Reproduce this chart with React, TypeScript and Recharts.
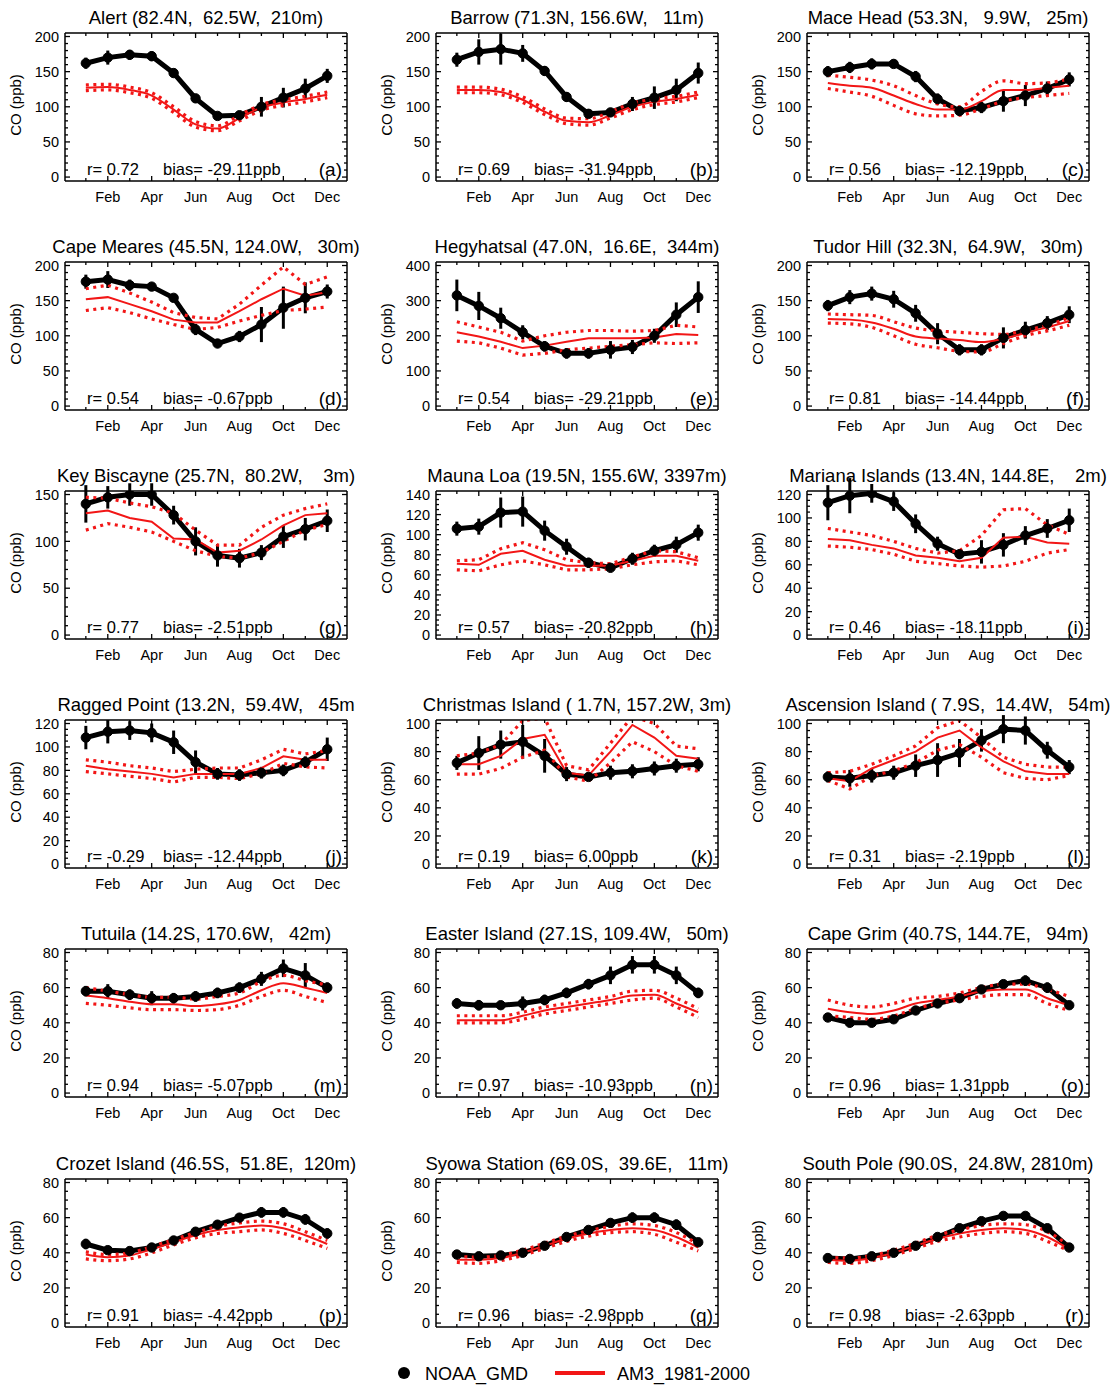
import React from 'react';
import { ComposedChart, Line, XAxis, YAxis, ErrorBar } from 'recharts';

const MONTHS = [1, 2, 3, 4, 5, 6, 7, 8, 9, 10, 11, 12];
const MONTH_LABELS = ['Jan', 'Feb', 'Mar', 'Apr', 'May', 'Jun', 'Jul', 'Aug', 'Sep', 'Oct', 'Nov', 'Dec'];

const TICKS_400 = [0, 100, 200, 300, 400];
const TICKS_200 = [0, 50, 100, 150, 200];
const TICKS_150 = [0, 50, 100, 150];
const TICKS_140 = [0, 20, 40, 60, 80, 100, 120, 140];
const TICKS_120 = [0, 20, 40, 60, 80, 100, 120];
const TICKS_100 = [0, 20, 40, 60, 80, 100];
const TICKS_80 = [0, 20, 40, 60, 80];

// (a) Alert
const alertObs = [162, 170, 174, 172, 148, 112, 87, 88, 100, 113, 126, 144];
const alertErr = [8, 10, 7, 7, 6, 6, 4, 5, 14, 14, 14, 10];
const alertMod = [127, 128, 124, 116, 96, 75, 69, 84, 99, 106, 111, 117];
const alertHi = [131, 132, 128, 120, 100, 79, 73, 88, 103, 110, 115, 121];
const alertLo = [123, 124, 120, 112, 92, 71, 66, 80, 95, 102, 107, 113];
// (b) Barrow
const barrowObs = [167, 178, 182, 176, 151, 114, 90, 92, 104, 113, 124, 148];
const barrowErr = [10, 18, 22, 12, 7, 7, 5, 6, 10, 16, 16, 15];
const barrowMod = [124, 124, 121, 110, 93, 80, 78, 88, 100, 107, 111, 117];
const barrowHi = [128, 128, 125, 114, 97, 84, 83, 93, 105, 111, 115, 121];
const barrowLo = [120, 120, 117, 106, 89, 76, 74, 84, 96, 103, 107, 113];
// (c) Mace Head
const maceObs = [150, 156, 161, 161, 143, 111, 94, 99, 108, 116, 126, 139];
const maceErr = [8, 8, 8, 6, 8, 8, 5, 8, 15, 15, 10, 10];
const maceMod = [134, 130, 127, 116, 104, 96, 96, 108, 124, 124, 127, 130];
const maceHi = [145, 142, 138, 130, 116, 104, 100, 122, 137, 133, 134, 140];
const maceLo = [126, 121, 115, 102, 90, 87, 88, 97, 108, 113, 116, 119];
// (d) Cape Meares
const mearesObs = [177, 180, 172, 170, 154, 109, 89, 99, 116, 140, 154, 163];
const mearesErr = [10, 12, 8, 5, 5, 8, 5, 8, 25, 30, 22, 10];
const mearesMod = [152, 155, 145, 135, 123, 119, 119, 135, 152, 167, 157, 162];
const mearesHi = [167, 172, 161, 148, 133, 126, 124, 145, 172, 198, 173, 184];
const mearesLo = [136, 140, 133, 124, 116, 109, 112, 121, 129, 136, 138, 141];
// (e) Hegyhatsal
const hegyObs = [315, 285, 250, 210, 170, 150, 150, 160, 168, 200, 260, 310];
const hegyErr = [45, 40, 30, 20, 15, 15, 15, 25, 20, 20, 35, 45];
const hegyMod = [210, 198, 183, 165, 172, 183, 193, 193, 193, 195, 205, 202];
const hegyHi = [240, 225, 210, 185, 200, 210, 215, 215, 213, 215, 230, 225];
const hegyLo = [185, 180, 165, 145, 150, 160, 165, 170, 175, 180, 178, 180];
// (f) Tudor Hill
const tudorObs = [143, 155, 160, 152, 132, 103, 80, 80, 97, 108, 118, 130];
const tudorErr = [8, 10, 10, 12, 12, 15, 8, 8, 15, 12, 10, 12];
const tudorMod = [124, 123, 119, 110, 99, 96, 94, 91, 96, 104, 112, 121];
const tudorHi = [131, 130, 129, 120, 111, 107, 105, 103, 102, 108, 115, 126];
const tudorLo = [118, 117, 112, 100, 88, 83, 78, 77, 89, 100, 107, 115];
// (g) Key Biscayne
const keyObs = [140, 147, 150, 150, 128, 100, 85, 82, 88, 105, 113, 122];
const keyErr = [20, 12, 12, 12, 10, 15, 12, 10, 8, 12, 12, 12];
const keyMod = [130, 133, 125, 121, 103, 102, 88, 90, 102, 117, 128, 130];
const keyHi = [147, 146, 141, 137, 130, 112, 96, 96, 115, 128, 135, 140];
const keyLo = [112, 119, 115, 110, 100, 90, 84, 82, 88, 100, 112, 118];
// (h) Mauna Loa
const maunaObs = [106, 108, 122, 123, 104, 88, 72, 67, 76, 84, 90, 102];
const maunaErr = [7, 8, 15, 15, 10, 8, 5, 3, 6, 6, 8, 8];
const maunaMod = [71, 70, 81, 84, 75, 69, 69, 69, 74, 79, 79, 74];
const maunaHi = [74, 75, 86, 92, 85, 75, 72, 71, 78, 84, 83, 77];
const maunaLo = [65, 64, 70, 74, 70, 65, 65, 66, 70, 73, 74, 70];
// (i) Mariana Islands
const marianaObs = [113, 119, 121, 114, 95, 78, 69, 71, 77, 85, 91, 98];
const marianaErr = [15, 15, 8, 8, 8, 6, 4, 10, 10, 8, 8, 10];
const marianaMod = [82, 81, 77, 74, 68, 66, 63, 66, 83, 84, 79, 78];
const marianaHi = [91, 88, 85, 80, 74, 70, 72, 85, 107, 108, 94, 86];
const marianaLo = [76, 75, 73, 69, 63, 61, 59, 58, 59, 63, 70, 73];
// (j) Ragged Point
const raggedObs = [108, 113, 114, 112, 104, 87, 77, 76, 78, 80, 87, 98];
const raggedErr = [10, 10, 8, 8, 10, 10, 5, 5, 5, 5, 5, 10];
const raggedMod = [84, 81, 79, 77, 74, 77, 77, 77, 82, 92, 89, 89];
const raggedHi = [89, 87, 84, 82, 79, 81, 82, 82, 89, 98, 94, 97];
const raggedLo = [79, 77, 75, 73, 70, 74, 74, 73, 77, 86, 83, 82];
// (k) Christmas Island
const xmasObs = [72, 79, 85, 87, 77, 64, 62, 65, 66, 68, 70, 71];
const xmasErr = [5, 12, 10, 12, 12, 5, 3, 5, 5, 5, 5, 5];
const xmasMod = [71, 71, 77, 89, 92, 65, 63, 80, 99, 90, 77, 75];
const xmasHi = [77, 79, 85, 102, 104, 70, 67, 86, 105, 100, 84, 82];
const xmasLo = [64, 64, 68, 76, 81, 62, 59, 72, 87, 80, 70, 66];
// (l) Ascension Island
const ascObs = [62, 61, 63, 65, 70, 74, 79, 88, 96, 95, 81, 69];
const ascErr = [4, 6, 5, 5, 8, 12, 10, 8, 10, 10, 6, 5];
const ascMod = [61, 59, 68, 74, 80, 90, 95, 83, 73, 66, 64, 64];
const ascHi = [65, 66, 71, 77, 84, 97, 102, 90, 76, 71, 69, 69];
const ascLo = [59.5, 53.5, 62.5, 66.5, 72, 81, 85, 76, 65, 61, 60, 63];
// (m) Tutuila
const tutuObs = [58, 58, 56, 54, 54, 55, 57, 60, 65, 71, 67, 60];
const tutuErr = [3, 4, 3, 4, 3, 3, 3, 3, 4, 5, 7, 3];
const tutuMod = [55.5, 54, 52, 50.5, 50.5, 49.5, 50.5, 53, 58.5, 62.5, 60, 57];
const tutuHi = [60, 58, 56, 54.5, 54.5, 53.5, 55, 57, 63.5, 67, 64, 61.5];
const tutuLo = [51, 50, 48.5, 47.5, 47.5, 47, 47.5, 50, 55, 58.5, 55, 51.5];
// (n) Easter Island
const easterObs = [51, 50, 50, 51, 53, 57, 62, 67, 73, 73, 67, 57];
const easterErr = [3, 3, 2, 4, 3, 3, 3, 5, 5, 5, 5, 3];
const easterMod = [41.5, 41.5, 41.5, 44, 47, 49, 51, 53, 55.5, 56, 51, 46];
const easterHi = [44, 44, 44, 46, 49, 51, 53, 55, 58, 58.5, 54, 48];
const easterLo = [40, 40, 40, 42, 45, 47, 49, 51, 53, 54, 49, 43];
// (o) Cape Grim
const grimObs = [43, 40, 40, 42, 47, 51, 54, 59, 62, 64, 60, 50];
const grimErr = [2, 2, 2, 2, 2, 2, 2, 2, 2, 3, 3, 2];
const grimMod = [48, 46, 45, 47, 51, 53, 55, 58, 59, 59, 54, 50];
const grimHi = [53, 50, 49, 51, 54, 55, 57, 60, 62, 62, 59, 55];
const grimLo = [44, 43, 42, 44, 48, 51, 53, 55, 56, 56, 51, 47];
// (p) Crozet Island
const crozetObs = [45, 41.5, 41, 43, 47, 52, 56, 60, 63, 63, 59, 51];
const crozetErr = [3, 2, 2, 2, 2, 2, 2, 2, 3, 3, 3, 3];
const crozetMod = [39, 37.5, 38.5, 42, 46, 50, 53, 54.5, 55.5, 54, 50, 45];
const crozetHi = [40.5, 39, 40, 43.5, 47.5, 51.5, 55, 57, 58, 56.5, 52, 47];
const crozetLo = [36.5, 35.5, 36.5, 40, 44.5, 48.5, 51, 52, 53, 51, 47, 42.5];
// (q) Syowa Station
const syowaObs = [39, 38, 38.5, 40, 44, 49, 53, 57, 60, 60, 56, 46];
const syowaErr = [2, 2, 2, 2, 2, 2, 2, 2, 3, 3, 3, 2];
const syowaMod = [36, 36, 37, 40, 44, 48, 51, 53, 54, 53, 49, 43];
const syowaHi = [38, 37.5, 38.5, 41.5, 45.5, 49.5, 52.5, 55, 56.5, 55.5, 51.5, 45];
const syowaLo = [34.5, 34, 35.5, 38.5, 42.5, 46.5, 49.5, 51.5, 52, 50.5, 46, 41];
// (r) South Pole
const spoObs = [37, 36.5, 38, 40, 44, 49, 54, 58, 61, 61, 54, 43];
const spoErr = [1, 1, 1, 1, 2, 2, 2, 2, 2, 2, 2, 2];
const spoMod = [36, 35.5, 37, 40, 44, 48, 51, 53, 54, 53, 49, 42];
const spoHi = [37.5, 37, 38.5, 41.5, 45.5, 50, 53, 55.5, 56.5, 56, 52, 44];
const spoLo = [34.5, 34, 35.5, 38.5, 42.5, 46.5, 49, 51, 52, 51, 46.5, 41];

type Station = {
  title: string; ticks: number[]; minor: number; r: string; bias: string; letter: string;
  obs: number[]; err: number[]; mod: number[]; hi: number[]; lo: number[]; curve: 'linear' | 'monotone';
};

const STATIONS: Station[] = [
  { title: 'Alert (82.4N,  62.5W,  210m)', ticks: TICKS_200, minor: 10, r: '0.72', bias: '-29.11', letter: 'a', obs: alertObs, err: alertErr, mod: alertMod, hi: alertHi, lo: alertLo, curve: 'monotone' },
  { title: 'Barrow (71.3N, 156.6W,   11m)', ticks: TICKS_200, minor: 10, r: '0.69', bias: '-31.94', letter: 'b', obs: barrowObs, err: barrowErr, mod: barrowMod, hi: barrowHi, lo: barrowLo, curve: 'monotone' },
  { title: 'Mace Head (53.3N,   9.9W,   25m)', ticks: TICKS_200, minor: 10, r: '0.56', bias: '-12.19', letter: 'c', obs: maceObs, err: maceErr, mod: maceMod, hi: maceHi, lo: maceLo, curve: 'monotone' },
  { title: 'Cape Meares (45.5N, 124.0W,   30m)', ticks: TICKS_200, minor: 10, r: '0.54', bias: '-0.67', letter: 'd', obs: mearesObs, err: mearesErr, mod: mearesMod, hi: mearesHi, lo: mearesLo, curve: 'linear' },
  { title: 'Hegyhatsal (47.0N,  16.6E,  344m)', ticks: TICKS_400, minor: 20, r: '0.54', bias: '-29.21', letter: 'e', obs: hegyObs, err: hegyErr, mod: hegyMod, hi: hegyHi, lo: hegyLo, curve: 'linear' },
  { title: 'Tudor Hill (32.3N,  64.9W,   30m)', ticks: TICKS_200, minor: 10, r: '0.81', bias: '-14.44', letter: 'f', obs: tudorObs, err: tudorErr, mod: tudorMod, hi: tudorHi, lo: tudorLo, curve: 'monotone' },
  { title: 'Key Biscayne (25.7N,  80.2W,    3m)', ticks: TICKS_150, minor: 10, r: '0.77', bias: '-2.51', letter: 'g', obs: keyObs, err: keyErr, mod: keyMod, hi: keyHi, lo: keyLo, curve: 'linear' },
  { title: 'Mauna Loa (19.5N, 155.6W, 3397m)', ticks: TICKS_140, minor: 5, r: '0.57', bias: '-20.82', letter: 'h', obs: maunaObs, err: maunaErr, mod: maunaMod, hi: maunaHi, lo: maunaLo, curve: 'linear' },
  { title: 'Mariana Islands (13.4N, 144.8E,    2m)', ticks: TICKS_120, minor: 5, r: '0.46', bias: '-18.11', letter: 'i', obs: marianaObs, err: marianaErr, mod: marianaMod, hi: marianaHi, lo: marianaLo, curve: 'linear' },
  { title: 'Ragged Point (13.2N,  59.4W,   45m', ticks: TICKS_120, minor: 5, r: '-0.29', bias: '-12.44', letter: 'j', obs: raggedObs, err: raggedErr, mod: raggedMod, hi: raggedHi, lo: raggedLo, curve: 'linear' },
  { title: 'Christmas Island ( 1.7N, 157.2W, 3m)', ticks: TICKS_100, minor: 5, r: '0.19', bias: '6.00', letter: 'k', obs: xmasObs, err: xmasErr, mod: xmasMod, hi: xmasHi, lo: xmasLo, curve: 'linear' },
  { title: 'Ascension Island ( 7.9S,  14.4W,   54m)', ticks: TICKS_100, minor: 5, r: '0.31', bias: '-2.19', letter: 'l', obs: ascObs, err: ascErr, mod: ascMod, hi: ascHi, lo: ascLo, curve: 'linear' },
  { title: 'Tutuila (14.2S, 170.6W,   42m)', ticks: TICKS_80, minor: 5, r: '0.94', bias: '-5.07', letter: 'm', obs: tutuObs, err: tutuErr, mod: tutuMod, hi: tutuHi, lo: tutuLo, curve: 'monotone' },
  { title: 'Easter Island (27.1S, 109.4W,   50m)', ticks: TICKS_80, minor: 5, r: '0.97', bias: '-10.93', letter: 'n', obs: easterObs, err: easterErr, mod: easterMod, hi: easterHi, lo: easterLo, curve: 'monotone' },
  { title: 'Cape Grim (40.7S, 144.7E,   94m)', ticks: TICKS_80, minor: 5, r: '0.96', bias: '1.31', letter: 'o', obs: grimObs, err: grimErr, mod: grimMod, hi: grimHi, lo: grimLo, curve: 'monotone' },
  { title: 'Crozet Island (46.5S,  51.8E,  120m)', ticks: TICKS_80, minor: 5, r: '0.91', bias: '-4.42', letter: 'p', obs: crozetObs, err: crozetErr, mod: crozetMod, hi: crozetHi, lo: crozetLo, curve: 'monotone' },
  { title: 'Syowa Station (69.0S,  39.6E,   11m)', ticks: TICKS_80, minor: 5, r: '0.96', bias: '-2.98', letter: 'q', obs: syowaObs, err: syowaErr, mod: syowaMod, hi: syowaHi, lo: syowaLo, curve: 'monotone' },
  { title: 'South Pole (90.0S,  24.8W, 2810m)', ticks: TICKS_80, minor: 5, r: '0.98', bias: '-2.63', letter: 'r', obs: spoObs, err: spoErr, mod: spoMod, hi: spoHi, lo: spoLo, curve: 'monotone' },
];

const FONT = '"Liberation Sans", Arial, Helvetica, sans-serif';
const RED = '#f21616';
const CW = 370;
const CH = 229;
const ML = 65;
const MT = 33;
const PW = 282;
const PH = 148;
const COL_X = [65, 436, 807];
const ROW_Y = [33, 262, 491, 720, 949, 1179];
const X_DOMAIN: [number, number] = [0.05, 12.9];
const MAJ = 5;
const MIN = 3;

const near = (v: number, arr: number[]) => arr.some((a) => Math.abs(a - v) < 1e-6);

const LeftTick = (props: any) => {
  const { x, y, payload, majors } = props;
  const major = near(payload.value, majors);
  const ax = x + 6;
  return (
    <g>
      <line x1={ax} x2={ax + (major ? MAJ : MIN)} y1={y} y2={y} stroke="#000" strokeWidth={1.3} />
      {major && (
        <text x={x} y={y} dy="0.36em" textAnchor="end" fontSize={14.5} fontFamily={FONT} fill="#000">
          {payload.value}
        </text>
      )}
    </g>
  );
};

const RightTick = (props: any) => {
  const { x, y, payload, majors } = props;
  const major = near(payload.value, majors);
  return <line x1={x} x2={x - (major ? MAJ : MIN)} y1={y} y2={y} stroke="#000" strokeWidth={1.3} />;
};

const BottomTick = (props: any) => {
  const { x, y, payload } = props;
  const m = payload.value as number;
  const major = m % 2 === 0;
  return (
    <g>
      <line x1={x} x2={x} y1={y} y2={y - (major ? MAJ : MIN)} stroke="#000" strokeWidth={1.3} />
      {major && (
        <text x={x} y={y + 21} textAnchor="middle" fontSize={14.5} fontFamily={FONT} fill="#000">
          {MONTH_LABELS[m - 1]}
        </text>
      )}
    </g>
  );
};

const TopTick = (props: any) => {
  const { x, y, payload } = props;
  const major = (payload.value as number) % 2 === 0;
  return <line x1={x} x2={x} y1={y} y2={y + (major ? MAJ : MIN)} stroke="#000" strokeWidth={1.3} />;
};

function minorTicks(majors: number[], step: number) {
  const out: number[] = [];
  const max = majors[majors.length - 1];
  for (let i = 0; i * step <= max + 1e-9; i++) out.push(Math.round(i * step * 100) / 100);
  return out;
}

const Panel = ({ s, col, row }: { s: Station; col: number; row: number }) => {
  const ymax = s.ticks[s.ticks.length - 1];
  const domain: [number, number] = [-0.028 * ymax, 1.025 * ymax];
  const yt = minorTicks(s.ticks, s.minor);
  const data = MONTHS.map((m, i) => ({ m, obs: s.obs[i], err: s.err[i], mod: s.mod[i], hi: s.hi[i], lo: s.lo[i] }));
  const axisLine = { stroke: '#000', strokeWidth: 1.5 };
  return (
    <div style={{ position: 'absolute', left: COL_X[col] - ML, top: ROW_Y[row] - MT, width: CW, height: CH }}>
      <ComposedChart width={CW} height={CH} data={data}
        margin={{ top: MT - 1, left: 15, right: CW - ML - PW - 1, bottom: CH - MT - PH - 30 }}>
        <XAxis xAxisId="b" dataKey="m" type="number" domain={X_DOMAIN} allowDataOverflow ticks={MONTHS} interval={0}
          orientation="bottom" height={30} tickSize={0} tickMargin={0} tickLine={false} axisLine={axisLine} tick={<BottomTick />} />
        <XAxis xAxisId="t" dataKey="m" type="number" domain={X_DOMAIN} allowDataOverflow ticks={MONTHS} interval={0}
          orientation="top" height={1} tickSize={0} tickMargin={0} tickLine={false} axisLine={axisLine} tick={<TopTick />} />
        <YAxis yAxisId="l" type="number" domain={domain} allowDataOverflow ticks={yt} interval={0} orientation="left"
          width={50} tickSize={0} tickMargin={6} tickLine={false} axisLine={axisLine} tick={<LeftTick majors={s.ticks} />} />
        <YAxis yAxisId="r" type="number" domain={domain} allowDataOverflow ticks={yt} interval={0} orientation="right"
          width={1} tickSize={0} tickMargin={0} tickLine={false} axisLine={axisLine} tick={<RightTick majors={s.ticks} />} />
        <Line xAxisId="t" yAxisId="r" dataKey="obs" type="linear" stroke="none" strokeWidth={0} dot={false} activeDot={false}
          legendType="none" isAnimationActive={false} />
        <Line xAxisId="b" yAxisId="l" dataKey="obs" type="linear" stroke="#000" strokeWidth={5}
          dot={{ r: 4.7, fill: '#000', stroke: '#000', strokeWidth: 1 }} isAnimationActive={false}>
          <ErrorBar dataKey="err" width={0} strokeWidth={3} stroke="#000" direction="y" isAnimationActive={false} />
        </Line>
        <Line xAxisId="b" yAxisId="l" dataKey="hi" type={s.curve} stroke={RED} strokeWidth={3.2} strokeDasharray="3 4.5" dot={false} isAnimationActive={false} />
        <Line xAxisId="b" yAxisId="l" dataKey="lo" type={s.curve} stroke={RED} strokeWidth={3.2} strokeDasharray="3 4.5" dot={false} isAnimationActive={false} />
        <Line xAxisId="b" yAxisId="l" dataKey="mod" type={s.curve} stroke={RED} strokeWidth={2} dot={false} isAnimationActive={false} />
      </ComposedChart>
      <svg width={CW} height={CH} style={{ position: 'absolute', left: 0, top: 0, overflow: 'visible', pointerEvents: 'none' }} fontFamily={FONT} fill="#000">
        <text x={ML + PW / 2} y={24} textAnchor="middle" fontSize={18.5} style={{ whiteSpace: 'pre' }}>{s.title}</text>
        <text transform={`translate(21, 105) rotate(-90)`} textAnchor="middle" fontSize={15}>CO (ppb)</text>
        <text x={ML + 22} y={175} fontSize={16.5} style={{ whiteSpace: 'pre' }}>{`r= ${s.r}`}</text>
        <text x={ML + 98} y={175} fontSize={16.5} style={{ whiteSpace: 'pre' }}>{`bias= ${s.bias}ppb`}</text>
        <text x={ML + PW - 5} y={176} textAnchor="end" fontSize={19}>{`(${s.letter})`}</text>
      </svg>
    </div>
  );
};

export default function App() {
  return (
    <div style={{ position: 'absolute', left: 0, top: 0, width: 1119, height: 1385, background: '#fff', overflow: 'hidden' }}>
      {STATIONS.map((s, i) => (
        <Panel key={s.letter} s={s} col={i % 3} row={Math.floor(i / 3)} />
      ))}
      <svg width={1119} height={45} style={{ position: 'absolute', left: 0, top: 1340 }} fontFamily={FONT}>
        <circle cx={404} cy={33} r={6} fill="#000" />
        <text x={425} y={40} fontSize={18} fill="#000">NOAA_GMD</text>
        <line x1={555} x2={605} y1={33} y2={33} stroke={RED} strokeWidth={4} />
        <text x={617} y={40} fontSize={18} fill="#000">AM3_1981-2000</text>
      </svg>
    </div>
  );
}
